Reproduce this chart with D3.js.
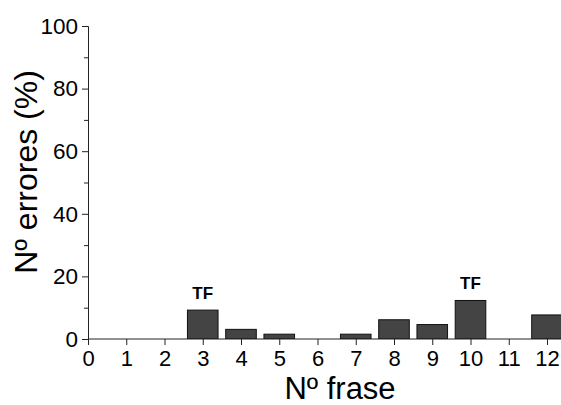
<!DOCTYPE html>
<html><head><meta charset="utf-8">
<script src="https://cdn.jsdelivr.net/npm/d3@7"></script>
<style>body{margin:0;background:#fff}svg{display:block}</style>
</head><body>
<script>
const categories = [0,1,2,3,4,5,6,7,8,9,10,11,12];
const values = [0,0,0,9.23,3.08,1.54,0,1.54,6.15,4.62,12.31,0,7.69];
const yTicks = [0,20,40,60,80,100];
const annotations = [{x:3,label:"TF"},{x:10,label:"TF"}];

const W=561,H=405;
const svg=d3.select("body").append("svg").attr("width",W).attr("height",H);
const x=d3.scaleLinear().domain([0,12]).range([88,547]);
const y=d3.scaleLinear().domain([0,100]).range([339,26]);
const font="Liberation Sans, Arial, sans-serif";
const axisColor="#222";

svg.append("defs").append("clipPath").attr("id","c").append("rect")
  .attr("x",88).attr("y",0).attr("width",W-88).attr("height",339);

const bw = (x(1)-x(0))*0.8;
svg.append("g").attr("clip-path","url(#c)").selectAll("rect").data(categories.map((c,i)=>({c,v:values[i]})).filter(d=>d.v>0))
  .enter().append("rect")
  .attr("x",d=>x(d.c)-bw/2).attr("width",bw)
  .attr("y",d=>y(d.v)).attr("height",d=>y(0)-y(d.v))
  .attr("fill","#444").attr("stroke","#111").attr("stroke-width",1);

// y axis
const ya=svg.append("g").attr("transform","translate(88,0)")
  .call(d3.axisLeft(y).tickValues(yTicks).tickSize(6).tickPadding(4));
ya.select(".domain").attr("stroke",axisColor);
ya.selectAll(".tick line").attr("stroke",axisColor);
ya.selectAll("text").attr("font-family",font).attr("font-size",22.5).attr("fill","#000");
svg.append("g").attr("transform","translate(88,0)")
  .call(d3.axisLeft(y).tickValues([10,30,50,70,90]).tickSize(4).tickFormat(""))
  .call(g=>{g.select(".domain").remove();g.selectAll("line").attr("stroke",axisColor);});

// x axis
const xa=svg.append("g").attr("transform","translate(0,339)")
  .call(d3.axisBottom(x).tickValues(categories).tickSize(6).tickPadding(5).tickFormat(d3.format("d")));
xa.select(".domain").attr("stroke",axisColor).attr("d","M88,0H561");
xa.selectAll(".tick line").attr("stroke",axisColor);
xa.selectAll("text").attr("font-family",font).attr("font-size",22).attr("fill","#000");

// annotations
svg.selectAll("text.ann").data(annotations).enter().append("text")
  .attr("x",d=>x(d.x)).attr("y",d=>y(values[d.x])-11)
  .attr("text-anchor","middle").attr("font-family",font).attr("font-weight","bold")
  .attr("font-size",17).text(d=>d.label);

// titles
svg.append("text").attr("x",340).attr("y",399).attr("text-anchor","middle")
  .attr("font-family",font).attr("font-size",31).text("Nº frase");
svg.append("text").attr("transform","translate(37,172) rotate(-90)").attr("text-anchor","middle")
  .attr("font-family",font).attr("font-size",32).text("Nº errores (%)");
</script>
</body></html>
